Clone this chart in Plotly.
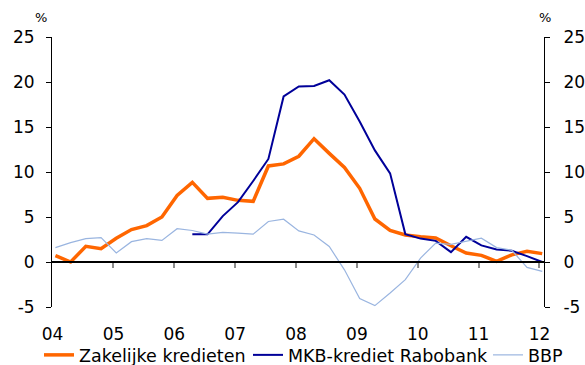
import plotly.graph_objects as go

# Quarterly observations, 2004 Q1 .. 2012 Q1 (year-on-year growth, %)
years = list(range(2004, 2013))
quarters = [y + q * 0.25 + 0.046 for y in range(2004, 2013) for q in range(4)][:33]

zakelijke_kredieten = [
    0.72, 0.0, 1.74, 1.48,
    2.63, 3.6, 4.04, 5.0,
    7.4, 8.85, 7.07, 7.19,
    6.85, 6.74, 10.67, 10.9,
    11.75, 13.7, 12.07, 10.5,
    8.19, 4.78, 3.52, 3.0,
    2.81, 2.66, 1.8, 1.0,
    0.74, 0.08, 0.8, 1.2,
    0.93,
]

mkb_krediet_rabobank = [
    None, None, None, None,
    None, None, None, None,
    None, 3.07, 3.07, 5.1,
    6.65, 9.0, 11.45, 18.4,
    19.5, 19.56, 20.2, 18.6,
    15.6, 12.4, 9.85, 3.1,
    2.6, 2.35, 1.1, 2.8,
    1.85, 1.4, 1.25, 0.65,
    0.0,
]

bbp = [
    1.6, 2.15, 2.6, 2.7,
    1.0, 2.26, 2.6, 2.4,
    3.7, 3.5, 3.1, 3.3,
    3.2, 3.1, 4.5, 4.75,
    3.46, 3.0, 1.72, -0.87,
    -4.07, -4.85, -3.44, -1.96,
    0.44, 2.1, 1.95, 2.3,
    2.65, 1.6, 1.3, -0.6,
    -1.05,
]

tick_years = years
tick_text = [f"{y % 100:02d}" for y in years]
y_ticks = [-5, 0, 5, 10, 15, 20, 25]
y_tick_text = [str(v) for v in y_ticks]  # plain hyphen for negatives

FONT = "DejaVu Sans"
X_RANGE = [2003.99, 2012.075]
Y_RANGE = [-5, 25]

fig = go.Figure()

fig.add_trace(go.Scatter(
    x=quarters, y=zakelijke_kredieten, name="Zakelijke kredieten",
    mode="lines", line=dict(color="#FF6600", width=3.5), legendwidth=164,
))
fig.add_trace(go.Scatter(
    x=quarters, y=mkb_krediet_rabobank, name="MKB-krediet Rabobank",
    mode="lines", line=dict(color="#000099", width=2), connectgaps=False,
    legendwidth=195,
))
fig.add_trace(go.Scatter(
    x=quarters, y=bbp, name="BBP",
    mode="lines", line=dict(color="#9AB5E0", width=1.2), legendwidth=36,
))
# Empty helper traces so the zero-line axis and the right-hand axis get drawn
fig.add_trace(go.Scatter(x=[], y=[], xaxis="x2", yaxis="y",
                         showlegend=False, hoverinfo="skip"))
fig.add_trace(go.Scatter(x=[], y=[], xaxis="x", yaxis="y2",
                         showlegend=False, hoverinfo="skip"))

axis_font = dict(family=FONT, size=17, color="#000000")

fig.update_layout(
    width=585, height=365,
    margin=dict(l=52, r=41, t=37, b=58, autoexpand=False),
    paper_bgcolor="white", plot_bgcolor="white",
    font=axis_font,
    showlegend=True,
    legend=dict(
        orientation="h", xref="paper", yref="paper",
        x=(39 - 52) / 492, xanchor="left", y=(307 - 355) / 270, yanchor="middle",
        font=dict(family=FONT, size=17.5, color="#000000"),
        bgcolor="rgba(0,0,0,0)", borderwidth=0,
    ),
    xaxis=dict(
        range=X_RANGE, tickmode="array", tickvals=tick_years, ticktext=tick_text,
        ticks="", showline=False, showgrid=False, zeroline=False,
        ticklabelstandoff=15, tickfont=axis_font,
    ),
    xaxis2=dict(
        range=X_RANGE, matches="x", overlaying="x", anchor="free",
        position=(0 - Y_RANGE[0]) / (Y_RANGE[1] - Y_RANGE[0]),
        tickmode="array", tickvals=tick_years[1:],
        ticks="outside", ticklen=5, tickwidth=2, tickcolor="#8c8c8c",
        showticklabels=False, showline=True, linecolor="#000000", linewidth=1.5,
        showgrid=False, zeroline=False,
    ),
    yaxis=dict(
        range=Y_RANGE, tickmode="array", tickvals=y_ticks, ticktext=y_tick_text,
        ticks="outside", ticklen=5, tickcolor="#000000", tickwidth=1,
        showline=True, linecolor="#000000", linewidth=1,
        showgrid=False, zeroline=False, tickfont=axis_font,
        ticklabelstandoff=8,
    ),
    yaxis2=dict(
        range=Y_RANGE, overlaying="y", side="right", anchor="x",
        tickmode="array", tickvals=y_ticks, ticktext=y_tick_text,
        ticks="outside", ticklen=5, tickcolor="#000000", tickwidth=1,
        showline=True, linecolor="#000000", linewidth=1,
        showgrid=False, zeroline=False, tickfont=axis_font,
        ticklabelstandoff=10,
    ),
    annotations=[
        dict(text="%", xref="paper", yref="paper", x=-0.023, y=1.0715,
             xanchor="center", yanchor="middle", showarrow=False,
             font=dict(family=FONT, size=13, color="#000000")),
        dict(text="%", xref="paper", yref="paper", x=1.0014, y=1.0715,
             xanchor="center", yanchor="middle", showarrow=False,
             font=dict(family=FONT, size=13, color="#000000")),
    ],
)

fig.write_html("out.html")
